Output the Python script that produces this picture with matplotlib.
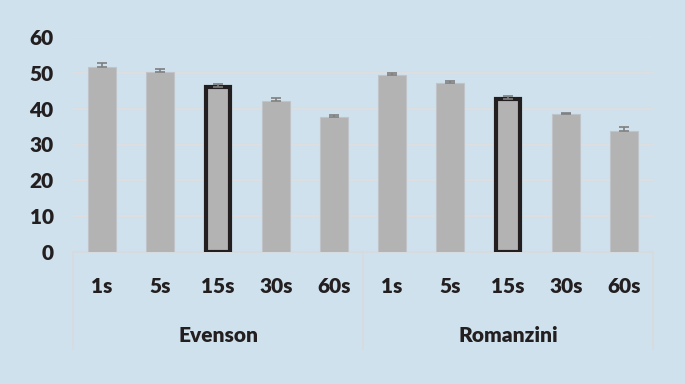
import numpy as np
import matplotlib
matplotlib.use('Agg')
from matplotlib import pyplot as plt
from matplotlib import transforms

# data
groups = ['Evenson', 'Romanzini']
epochs = ['1s', '5s', '15s', '30s', '60s']
evenson = [51.7, 50.3, 46.1, 42.2, 37.7]
romanzini = [49.4, 47.1, 42.8, 38.5, 33.8]
evenson_err = [1.1, 0.9, 0.7, 0.8, 0.6]
romanzini_err = [0.6, 0.5, 0.6, 0.4, 1.0]
highlight = '15s'

bg = '#cfe1ed'
plt.rcParams['font.family'] = ['Lato', 'DejaVu Sans']
fw = 'heavy'
fs = 15

values = evenson + romanzini
errs = evenson_err + romanzini_err
labels = epochs + epochs
x = np.arange(len(values))

fig = plt.figure(figsize=(6.85, 3.84), dpi=100, facecolor=bg)
ax = fig.add_axes([73/685, 132/384, 580/685, 215/384])
ax.set_facecolor(bg)

for i, v in enumerate(values):
    if labels[i] == highlight:
        ax.bar(x[i], v, width=0.42, color='#b3b3b3', edgecolor='#231f20',
               linewidth=3, zorder=3)
    else:
        ax.bar(x[i], v, width=0.47, color='#b3b3b3', edgecolor='#c0c4c8',
               linewidth=0.8, zorder=3)

ax.errorbar(x, values, yerr=[np.zeros(len(errs)), errs], fmt='none',
            ecolor='#7f7f7f', elinewidth=1.2, capsize=3.5, capthick=1.2, zorder=4)

ax.set_xlim(-0.5, len(values) - 0.5)
ax.set_ylim(0, 60)
ax.set_yticks(range(0, 61, 10))
ax.yaxis.grid(True, color='#dcdee0', linewidth=1.5, zorder=0)
ax.set_axisbelow(True)
for s in ['top', 'right', 'left']:
    ax.spines[s].set_visible(False)
ax.spines['bottom'].set_color('#d8dadd')
ax.spines['bottom'].set_linewidth(1.2)

ax.set_xticks(x)
ax.set_xticklabels(labels, fontsize=fs, fontweight=fw, color='#231f20')
ax.tick_params(axis='x', length=0, pad=18)
ax.tick_params(axis='y', length=0, pad=14, labelsize=fs, labelcolor='#231f20')
for t in ax.get_yticklabels():
    t.set_fontweight(fw)

# group labels and separators below the axis
trans = transforms.blended_transform_factory(ax.transData, ax.transAxes)
n = len(epochs)
for g, name in enumerate(groups):
    ax.text(g * n + (n - 1) / 2, -0.39, name, transform=trans, ha='center',
            va='center', fontsize=fs, fontweight=fw, color='#231f20')
for g in range(len(groups) + 1):
    ax.plot([g * n - 0.5, g * n - 0.5], [0, -0.45], transform=trans,
            color='#d8dadd', linewidth=1.2, clip_on=False)

fig.savefig('out.png', dpi=100, facecolor=bg)
